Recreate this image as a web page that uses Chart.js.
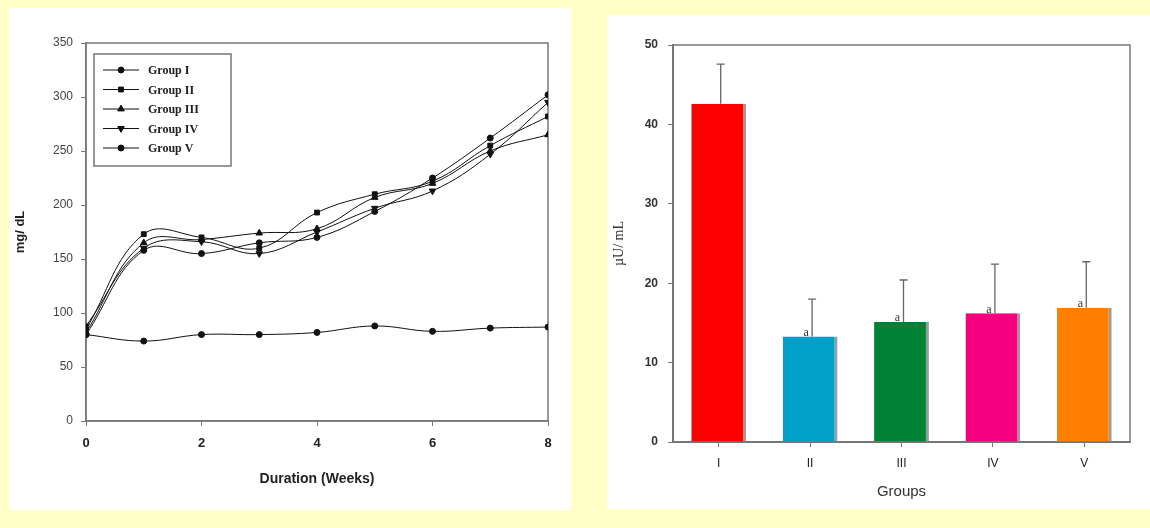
<!DOCTYPE html>
<html>
<head>
<meta charset="utf-8">
<script src="https://cdn.jsdelivr.net/npm/chart.js@4.4.1/dist/chart.umd.min.js"></script>
<style>
  html, body { margin:0; padding:0; background:#ffffc6; width:1150px; height:528px; overflow:hidden; }
  .panel { position:absolute; background:#fff; }
  #leftPanel { left:9px; top:8px; width:562px; height:502px; }
  #rightPanel { left:607px; top:15px; width:543px; height:494px; }
  canvas { display:block; }
</style>
</head>
<body>
<div class="panel" id="leftPanel"><canvas id="glucoseChart" width="562" height="502"></canvas></div>
<div class="panel" id="rightPanel"><canvas id="insulinChart" width="543" height="494"></canvas></div>
<script>
// ---- data: blood glucose (mg/dL) by week ----
const weeks = [0, 1, 2, 3, 4, 5, 6, 7, 8];
const groupI   = [80, 74, 80, 80, 82, 88, 83, 86, 87];
const groupII  = [85, 173, 170, 160, 193, 210, 222, 255, 282];
const groupIII = [82, 165, 168, 174, 178, 207, 220, 250, 265];
const groupIV  = [88, 160, 166, 155, 175, 197, 213, 247, 295];
const groupV   = [80, 158, 155, 165, 170, 194, 225, 262, 302];
const groupNames = ["Group I", "Group II", "Group III", "Group IV", "Group V"];

// ---- data: serum insulin (µU/mL) ----
const insulinGroups = ["I", "II", "III", "IV", "V"];
const insulinMeans  = [42.6, 13.3, 15.1, 16.2, 16.9];
const insulinErrors = [5.0, 4.7, 5.3, 6.2, 5.8];
const insulinMarks  = ["", "a", "a", "a", "a"];
const barColors = ["#ff0000", "#00a0c8", "#008236", "#f5007f", "#ff8000"];

const textCol = "#222";
const frameCol = "#777";

/* =========================
   LEFT CHART
========================= */
const seriesList = [groupI, groupII, groupIII, groupIV, groupV];
const markers = [
  { style: "circle", rot: 0, r: 3 },
  { style: "rect", rot: 0, r: 3.4 },
  { style: "triangle", rot: 0, r: 3.8 },
  { style: "triangle", rot: 180, r: 3.8 },
  { style: "circle", rot: 0, r: 3 }
];

const lineDatasets = seriesList.map((vals, i) => ({
  label: groupNames[i],
  data: weeks.map((w, j) => ({ x: w, y: vals[j] })),
  borderColor: "#111",
  backgroundColor: "#111",
  borderWidth: 1,
  pointStyle: markers[i].style,
  rotation: markers[i].rot,
  pointRadius: markers[i].r,
  tension: 0.4
}));

const boxFrame = {
  id: "boxFrame",
  beforeDatasetsDraw(chart) {
    const { ctx, chartArea: a } = chart;
    ctx.save();
    ctx.strokeStyle = frameCol;
    ctx.lineWidth = 1.5;
    ctx.strokeRect(a.left, a.top, a.right - a.left, a.bottom - a.top);
    ctx.restore();
  }
};

const boxLegend = {
  id: "boxLegend",
  afterDraw(chart) {
    const { ctx, chartArea: a } = chart;
    const x0 = a.left + 8, y0 = a.top + 11;
    ctx.save();
    ctx.strokeStyle = frameCol;
    ctx.lineWidth = 1.5;
    ctx.fillStyle = "#fff";
    ctx.fillRect(x0, y0, 137, 112);
    ctx.strokeRect(x0, y0, 137, 112);
    ctx.font = "bold 12px 'Liberation Serif', serif";
    ctx.textBaseline = "middle";
    chart.data.datasets.forEach((ds, i) => {
      const y = y0 + 16 + i * 19.5;
      ctx.strokeStyle = "#111";
      ctx.lineWidth = 1;
      ctx.beginPath();
      ctx.moveTo(x0 + 9, y);
      ctx.lineTo(x0 + 45, y);
      ctx.stroke();
      Chart.helpers.drawPoint(ctx, {
        pointStyle: ds.pointStyle, rotation: ds.rotation,
        radius: ds.pointRadius, borderWidth: 1
      }, x0 + 27, y);
      ctx.fillStyle = "#111";
      ctx.fill();
      ctx.fillStyle = textCol;
      ctx.fillText(ds.label, x0 + 54, y + 1);
    });
    ctx.restore();
  }
};

new Chart(document.getElementById("glucoseChart"), {
  type: "line",
  data: { datasets: lineDatasets },
  options: {
    responsive: false,
    animation: false,
    layout: { padding: { left: 0, top: 35, right: 23, bottom: 0 } },
    plugins: { legend: { display: false }, tooltip: { enabled: false } },
    scales: {
      x: {
        type: "linear", min: 0, max: 8,
        ticks: { stepSize: 2, color: textCol, padding: 10, font: { family: "Arial, 'Liberation Sans'", size: 13, weight: "bold" } },
        grid: { drawOnChartArea: false, tickLength: 5, color: frameCol },
        border: { color: frameCol, width: 1.5 },
        title: { display: true, text: "Duration (Weeks)", color: textCol, padding: { top: 10, bottom: 22 }, font: { family: "Arial, 'Liberation Sans'", size: 14, weight: "bold" } },
        afterFit(s) { s.height = 89; }
      },
      y: {
        min: 0, max: 350,
        ticks: { stepSize: 50, color: "#444", padding: 8, font: { family: "Arial, 'Liberation Sans'", size: 12 } },
        grid: { drawOnChartArea: false, tickLength: 5, color: frameCol },
        border: { color: frameCol, width: 1.5 },
        title: { display: true, text: "mg/ dL", color: textCol, padding: { top: 4, bottom: 14 }, font: { family: "Arial, 'Liberation Sans'", size: 13, weight: "bold" } },
        afterFit(s) { s.width = 77; }
      }
    }
  },
  plugins: [boxFrame, boxLegend]
});

/* =========================
   RIGHT CHART
========================= */
const errorBars = {
  id: "errorBars",
  afterDatasetsDraw(chart) {
    const { ctx } = chart;
    const meta = chart.getDatasetMeta(0);
    const yScale = chart.scales.y;
    ctx.save();
    ctx.strokeStyle = "#666";
    ctx.lineWidth = 1.3;
    meta.data.forEach((bar, i) => {
      const yTop = yScale.getPixelForValue(insulinMeans[i] + insulinErrors[i]);
      ctx.beginPath();
      ctx.moveTo(bar.x + 2, bar.y);
      ctx.lineTo(bar.x + 2, yTop);
      ctx.moveTo(bar.x - 2, yTop);
      ctx.lineTo(bar.x + 6, yTop);
      ctx.stroke();
      if (insulinMarks[i]) {
        ctx.fillStyle = "#333";
        ctx.font = "12px 'Liberation Serif', serif";
        ctx.textAlign = "center";
        ctx.textBaseline = "bottom";
        ctx.fillText(insulinMarks[i], bar.x - 4, bar.y + 2);
      }
    });
    ctx.restore();
  }
};

new Chart(document.getElementById("insulinChart"), {
  type: "bar",
  data: {
    labels: insulinGroups,
    datasets: [{
      data: insulinMeans,
      backgroundColor: barColors,
      borderColor: "#9a9a9a",
      borderWidth: { top: 0, left: 0, bottom: 0, right: 3 },
      borderSkipped: false,
      barPercentage: 0.6,
      categoryPercentage: 1
    }]
  },
  options: {
    responsive: false,
    animation: false,
    layout: { padding: { left: 0, top: 30, right: 20, bottom: 0 } },
    plugins: { legend: { display: false }, tooltip: { enabled: false } },
    scales: {
      x: {
        ticks: { color: textCol, padding: 9, font: { family: "Arial, 'Liberation Sans'", size: 12 } },
        grid: { drawOnChartArea: false, tickLength: 5, color: frameCol, offset: false },
        border: { color: frameCol, width: 2 },
        title: { display: true, text: "Groups", color: "#333", padding: { top: 2, bottom: 8 }, font: { family: "Arial, 'Liberation Sans'", size: 15 } },
        afterFit(s) { s.height = 67; }
      },
      y: {
        min: 0, max: 50,
        ticks: { stepSize: 10, color: "#333", padding: 10, font: { family: "Arial, 'Liberation Sans'", size: 12, weight: "bold" } },
        grid: { drawOnChartArea: false, tickLength: 5, color: frameCol },
        border: { color: frameCol, width: 2 },
        title: { display: true, text: "µU/ mL", color: "#333", padding: { bottom: 10 }, font: { family: "'Liberation Serif', serif", size: 14 } },
        afterFit(s) { s.width = 66; }
      }
    }
  },
  plugins: [boxFrame, errorBars]
});
</script>
</body>
</html>
